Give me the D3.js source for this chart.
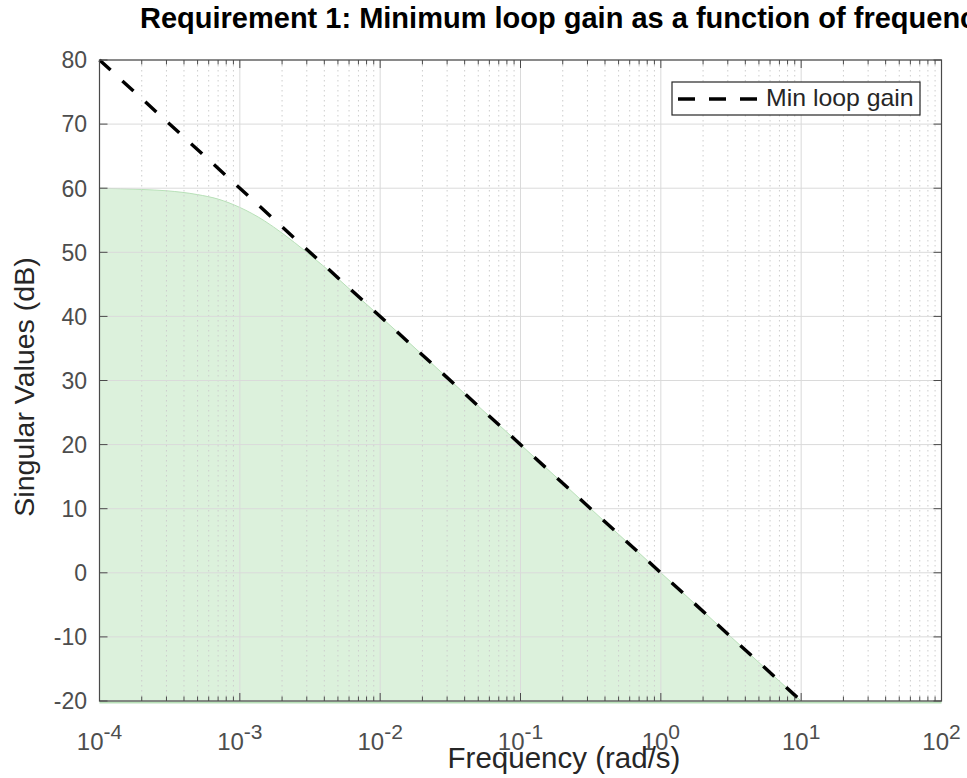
<!DOCTYPE html>
<html><head><meta charset="utf-8">
<script src="https://cdn.jsdelivr.net/npm/d3@7"></script>
<style>body{margin:0;background:#fff;font-family:"Liberation Sans",Arial,sans-serif;}</style>
</head><body>
<svg id="c" width="967" height="778"></svg>
<script>
// Data
const freqs = [1e-4, 2e-4, 3e-4, 5e-4, 7e-4, 1e-3, 1.5e-3, 2e-3, 3e-3, 5e-3, 7e-3, 1e-2, 2e-2, 5e-2, 1e-1, 2e-1, 5e-1, 1, 2, 5, 10, 20, 100];
const loopGain = [60, 59.8, 59.6, 59, 58.3, 57, 54.9, 53, 50, 45.9, 43, 40, 34, 26, 20, 14, 6, 0, -6, -14, -20, -26, -40];
const minGainFreq = [1e-4, 10];
const minGainDb = [80, -20];
const yTicks = [-20, -10, 0, 10, 20, 30, 40, 50, 60, 70, 80];
const xTickExps = [-4, -3, -2, -1, 0, 1, 2];
const titleText = "Requirement 1: Minimum loop gain as a function of frequency";
const xLabel = "Frequency (rad/s)";
const yLabel = "Singular Values (dB)";
const legendLabel = "Min loop gain";

const L = 99.5, R = 941.5, T = 60, B = 701;
const svg = d3.select("#c");
const x = d3.scaleLog().domain([1e-4, 1e2]).range([L, R]);
const y = d3.scaleLinear().domain([-20, 80]).range([B, T]);

svg.append("defs").append("clipPath").attr("id", "clip")
  .append("rect").attr("x", L).attr("y", T).attr("width", R - L).attr("height", B - T);

const minor = [];
for (let e = -4; e < 2; e++) for (let m = 2; m <= 9; m++) minor.push(m * Math.pow(10, e));

// fill area
const pts = freqs.map((f, i) => [f, loopGain[i]]);
const area = d3.area().x(d => x(d[0])).y0(y(-20)).y1(d => y(d[1])).curve(d3.curveMonotoneX);
const g = svg.append("g").attr("clip-path", "url(#clip)");
g.append("path").datum(pts).attr("d", area).attr("fill", "#dcf1dc");

// grid
const grid = svg.append("g");
grid.selectAll(".mnx").data(minor).enter().append("line")
  .attr("x1", d => x(d)).attr("x2", d => x(d)).attr("y1", T).attr("y2", B)
  .attr("stroke", "#cdcdcd").attr("stroke-width", 1).attr("stroke-dasharray", "1.5 3.5");
grid.selectAll(".mjx").data(xTickExps).enter().append("line")
  .attr("x1", d => x(Math.pow(10, d))).attr("x2", d => x(Math.pow(10, d))).attr("y1", T).attr("y2", B)
  .attr("stroke", "#dadada").attr("stroke-width", 1);
grid.selectAll(".mjy").data(yTicks).enter().append("line")
  .attr("x1", L).attr("x2", R).attr("y1", d => y(d)).attr("y2", d => y(d))
  .attr("stroke", "#dadada").attr("stroke-width", 1);

// curve edge
const line = d3.line().x(d => x(d[0])).y(d => y(d[1])).curve(d3.curveMonotoneX);
g.append("path").datum(pts).attr("d", line).attr("fill", "none").attr("stroke", "#b8e0b8").attr("stroke-width", 1);
svg.append("line").attr("x1", L).attr("x2", R).attr("y1", B + 1.5).attr("y2", B + 1.5)
  .attr("stroke", "#b8e0b8").attr("stroke-width", 2);

// dashed min loop gain line
const mg = minGainFreq.map((f, i) => [f, minGainDb[i]]);
svg.append("path").datum(mg).attr("d", d3.line().x(d => x(d[0])).y(d => y(d[1])))
  .attr("fill", "none").attr("stroke", "#000").attr("stroke-width", 3.4)
  .attr("stroke-dasharray", "15 16");

// axes box
const axC = "#4a4a4a";
svg.append("rect").attr("x", L).attr("y", T).attr("width", R - L).attr("height", B - T)
  .attr("fill", "none").attr("stroke", axC).attr("stroke-width", 1.2);

// ticks
const tk = svg.append("g").attr("stroke", axC).attr("stroke-width", 1);
xTickExps.forEach(e => {
  const px = x(Math.pow(10, e));
  tk.append("line").attr("x1", px).attr("x2", px).attr("y1", B).attr("y2", B - 8);
  tk.append("line").attr("x1", px).attr("x2", px).attr("y1", T).attr("y2", T + 8);
});
minor.forEach(m => {
  const px = x(m);
  tk.append("line").attr("x1", px).attr("x2", px).attr("y1", B).attr("y2", B - 4.5);
  tk.append("line").attr("x1", px).attr("x2", px).attr("y1", T).attr("y2", T + 4.5);
});
yTicks.forEach(v => {
  const py = y(v);
  tk.append("line").attr("x1", L).attr("x2", L + 8).attr("y1", py).attr("y2", py);
  tk.append("line").attr("x1", R).attr("x2", R - 8).attr("y1", py).attr("y2", py);
});

// y tick labels
const lblC = "#4d4d4d";
svg.append("g").selectAll("text").data(yTicks).enter().append("text")
  .attr("x", 87).attr("y", d => y(d) + 8.3).attr("text-anchor", "end")
  .attr("font-size", 23).attr("fill", lblC).text(d => d);

// x tick labels with superscripts
xTickExps.forEach(e => {
  const t = svg.append("text").attr("x", x(Math.pow(10, e))).attr("y", 750)
    .attr("text-anchor", "middle").attr("font-size", 24).attr("fill", lblC);
  t.append("tspan").text("10");
  t.append("tspan").attr("dy", -11).attr("font-size", 21).text(String(e));
});

// axis labels
svg.append("text").attr("x", 564).attr("y", 768).attr("text-anchor", "middle")
  .attr("font-size", 29.5).attr("fill", "#262626").text(xLabel);
svg.append("text").attr("transform", "translate(33.5,387) rotate(-90)").attr("text-anchor", "middle")
  .attr("font-size", 28.5).attr("fill", "#262626").text(yLabel);

// title
svg.append("text").attr("x", 140).attr("y", 28).attr("font-size", 29).attr("font-weight", "bold")
  .attr("fill", "#000").text(titleText);

// legend
const lg = svg.append("g");
lg.append("rect").attr("x", 672).attr("y", 82).attr("width", 248).attr("height", 33)
  .attr("fill", "#fff").attr("stroke", "#262626").attr("stroke-width", 1.2);
lg.append("line").attr("x1", 678).attr("x2", 760).attr("y1", 99).attr("y2", 99)
  .attr("stroke", "#000").attr("stroke-width", 3.4).attr("stroke-dasharray", "17 14");
lg.append("text").attr("transform", "translate(766,105.5) scale(1.08,1)").attr("font-size", 23).attr("fill", "#262626").text(legendLabel);
</script>
</body></html>
